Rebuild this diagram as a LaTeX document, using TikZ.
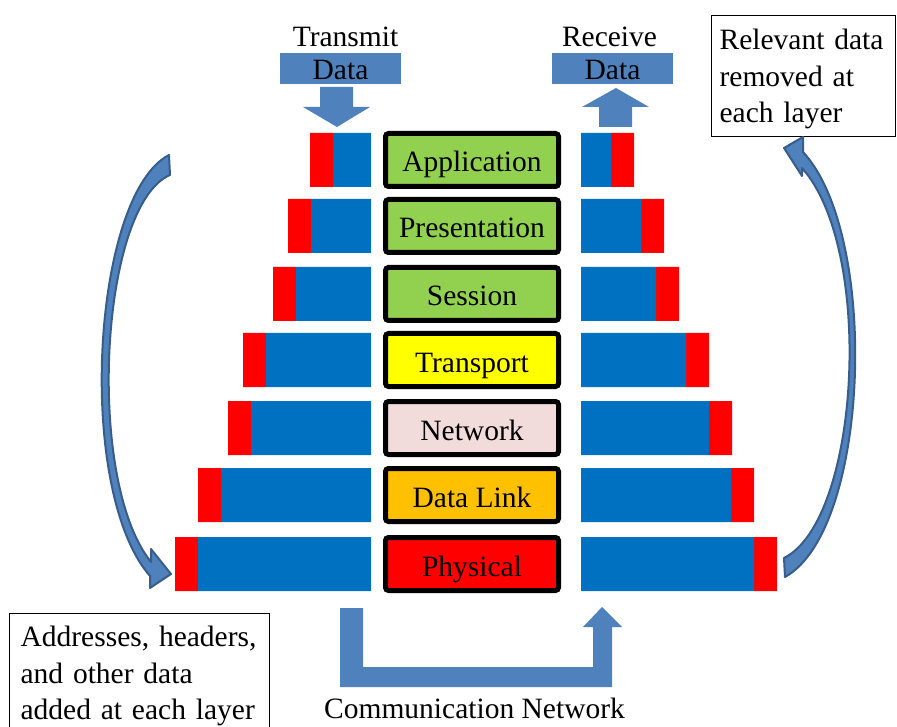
\documentclass[tikz,border=0pt]{standalone}
\usepackage{fontspec}
\setmainfont{Liberation Serif}
\usepackage{tikz}
\usepackage{xcolor}

\definecolor{pktblue}{HTML}{0070C0}
\definecolor{hdrred}{HTML}{FF0000}
\definecolor{arrowblue}{HTML}{4F81BD}
\definecolor{arrowedge}{HTML}{385D8A}
\definecolor{appgreen}{HTML}{92D050}
\definecolor{tpyellow}{HTML}{FFFF00}
\definecolor{netpink}{HTML}{F2DCDB}
\definecolor{dlorange}{HTML}{FFC000}

\begin{document}
\begin{tikzpicture}[x=1pt, y=-1pt,
    every node/.style={font=\fontsize{29.5}{36.5}\selectfont},
    layerbox/.style={draw=black, line width=5pt, rounded corners=3pt, minimum width=173pt,
        minimum height=53pt, inner sep=0pt, text height=24pt, text depth=0pt},
    datarect/.style={fill=arrowblue, minimum width=121pt, minimum height=31pt, inner sep=0pt,
        text height=22pt, text depth=0pt},
    notebox/.style={draw=black, line width=1.2pt, align=left, anchor=north west,
        inner xsep=11pt, inner ysep=12pt},
    curvearrow/.style={fill=arrowblue, draw=arrowedge, line width=2pt, line join=round},
    blockarrow/.style={fill=arrowblue}]
        \useasboundingbox (0,0) rectangle (897,727); % page frame

        % Labels on top
        \node[anchor=base] (transmit) at (345.5,47) {Transmit};
        \node[datarect] (txdata) at (340.5,68.5) {Data};
        \node[anchor=base] (receive) at (609.5,47) {Receive};
        \node[datarect] (rxdata) at (612.5,68.5) {Data};

        \fill[blockarrow] (320,87) -- (353,87) -- (353,107) -- (370,107) -- (337,127) -- (303,107) -- (320,107) -- cycle; % down arrow (transmit)
        \fill[blockarrow] (599,127) -- (632,127) -- (632,107) -- (649,107) -- (616,88) -- (582,107) -- (599,107) -- cycle; % up arrow (receive)

        % Application
        \fill[hdrred] (310,133) rectangle (333,187) (611,133) rectangle (634,187); % headers
        \fill[pktblue] (333,133) rectangle (371,187) (581,133) rectangle (611,187); % data
        \node[layerbox, fill=appgreen] (application) at (472,160) {Application};

        % Presentation
        \fill[hdrred] (288,199) rectangle (311,253) (641,199) rectangle (664,253);
        \fill[pktblue] (311,199) rectangle (371,253) (581,199) rectangle (641,253);
        \node[layerbox, fill=appgreen] (presentation) at (472,226) {Presentation};

        % Session
        \fill[hdrred] (273,267) rectangle (296,321) (656,267) rectangle (679,321);
        \fill[pktblue] (296,267) rectangle (371,321) (581,267) rectangle (656,321);
        \node[layerbox, fill=appgreen] (session) at (472,294) {Session};

        % Transport
        \fill[hdrred] (243,333) rectangle (266,387) (686,333) rectangle (709,387);
        \fill[pktblue] (266,333) rectangle (371,387) (581,333) rectangle (686,387);
        \node[layerbox, fill=tpyellow] (transport) at (472,360) {Transport};

        % Network
        \fill[hdrred] (228,401) rectangle (251,455) (709,401) rectangle (732,455);
        \fill[pktblue] (251,401) rectangle (371,455) (581,401) rectangle (709,455);
        \node[layerbox, fill=netpink] (network) at (472,428) {Network};

        % Data Link
        \fill[hdrred] (198,468) rectangle (221,522) (731,468) rectangle (754,522);
        \fill[pktblue] (221,468) rectangle (371,522) (581,468) rectangle (731,522);
        \node[layerbox, fill=dlorange] (datalink) at (472,495) {Data Link};

        % Physical
        \fill[hdrred] (175,537) rectangle (198,591) (754,537) rectangle (777,591);
        \fill[pktblue] (198,537) rectangle (371,591) (581,537) rectangle (754,591);
        \node[layerbox, fill=hdrred] (physical) at (472,564) {Physical};

        % Link between the two stacks
        \fill[blockarrow] (340,608) -- (363,608) -- (363,667) -- (593,667) -- (593,627) -- (583,627) -- (602,607)
            -- (622,627) -- (612,627) -- (612,687) -- (340,687) -- cycle; % U shaped arrow
        \node[anchor=base] (commnet) at (474.5,718) {Communication Network};

        % Notes
        \node[notebox, text width=238pt, text height=21pt] (addnote) at (9,613) {Addresses, headers,\\and other data\\added at each layer};
        \node[notebox, inner xsep=8pt, text width=168pt, text height=22pt, text depth=75pt] (removenote) at (711,15) {Relevant data\\removed at\\each layer};

        % Curved arrows
        \filldraw[curvearrow] (169,155) -- (170,175) .. controls (100,205) and (85,480) .. (151,562)
            -- (151,549) -- (171,574) -- (150,588) -- (150,576) .. controls (75,490) and (92,195) .. (169,155) -- cycle; % going down
        \filldraw[curvearrow] (784,558) .. controls (860,520) and (875,250) .. (802,168)
            -- (802,176) -- (784,148) -- (803,137) -- (803,152) .. controls (880,235) and (870,530) .. (785,577) -- cycle; % going up
    \end{tikzpicture}
\end{document}
